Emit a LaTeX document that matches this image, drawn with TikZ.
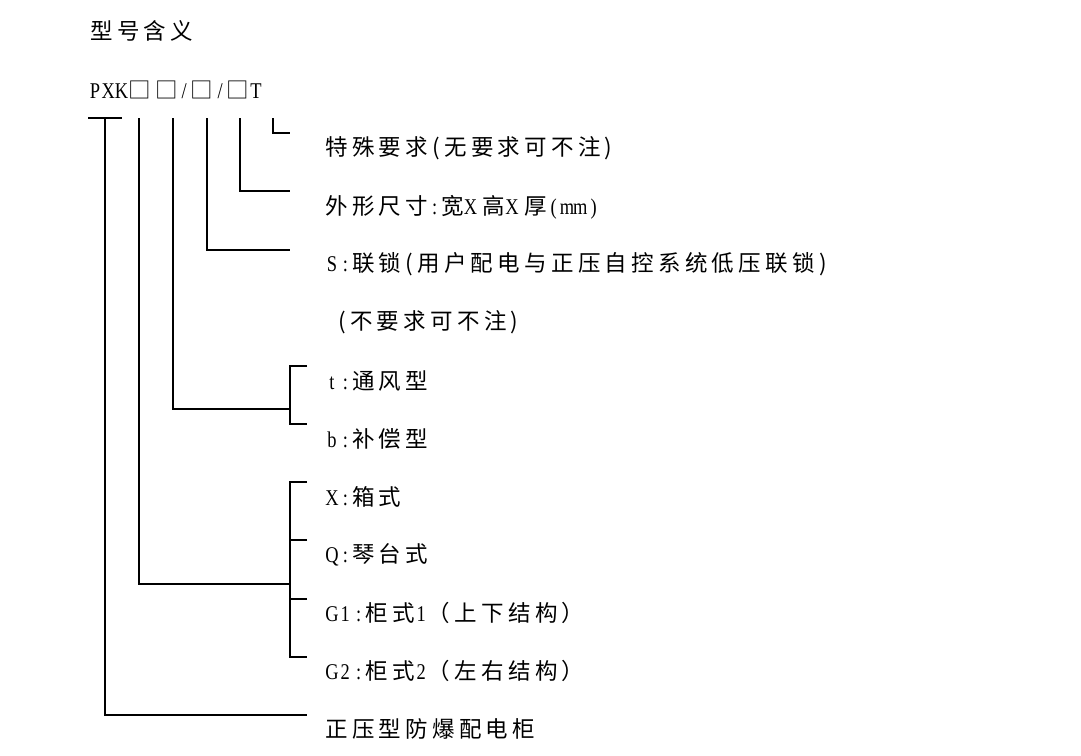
\documentclass[tikz,border=0pt]{standalone}
\usepackage{fontspec}
\setmainfont[Scale=1.0,FakeStretch=0.82]{Liberation Serif}
\newfontfamily\cjk[LetterSpace=19]{Noto Sans CJK SC}
\usetikzlibrary{calc}
% half-width cells for the latin letters
\makeatletter
\newcommand\hw[1]{\@tfor\hw@c:=#1\do{\makebox[9.5pt]{\hw@c}}}
\makeatother
\tikzset{
  lbl/.style={anchor=west, inner sep=0pt, font=\fontsize{16}{18}\selectfont},
  lead/.style={line width=0.75pt, black},
}

\begin{document}
\begin{tikzpicture}[x=0.025cm, y=-0.025cm]
    \useasboundingbox (0,0) rectangle (1081,756);
    % heading and model code
    \node[lbl] (lbltitle) at (90,31) {\cjk 型号含义};
    \node[lbl] (lblcode) at (88,90) {\hw{PXK}{\cjk □□}\hw{/}{\cjk □}\hw{/}{\cjk □}\hw{T}};
    % meaning of each field
    \node[lbl] (lblspec) at (325,148) {\cjk 特殊要求(无要求可不注)};
    \node[lbl] (lbldim) at (325,207) {{\cjk 外形尺寸}\hw{:}{\cjk 宽}\hw{X}\hspace{4pt}{\cjk 高}\hw{X}\hspace{4pt}{\cjk 厚}\hw{(mm)}};
    \node[lbl] (lbllock) at (325,264) {\hw{S:}{\cjk 联锁(用户配电与正压自控系统低压联锁)}};
    \node[lbl] (lbllockb) at (338,322) {\cjk (不要求可不注)};
    \node[lbl] (lblt) at (325,381) {\hw{t:}{\cjk 通风型}};
    \node[lbl] (lblb) at (325,439) {\hw{b:}{\cjk 补偿型}};
    \node[lbl] (lblX) at (325,497) {\hw{X:}{\cjk 箱式}};
    \node[lbl] (lblQ) at (325,555) {\hw{Q:}{\cjk 琴台式}};
    \node[lbl] (lblGa) at (325,613) {\hw{G1:}{\cjk 柜式}\hw{1}{\cjk （上下结构）}};
    \node[lbl] (lblGb) at (325,671) {\hw{G2:}{\cjk 柜式}\hw{2}{\cjk （左右结构）}};
    \node[lbl] (lblmain) at (325,729) {\cjk 正压型防爆配电柜};
    % feet of the leaders, under the code
    \coordinate (fmain) at (105,118);
    \coordinate (ftype) at (139,118);
    \coordinate (fvent) at (173,118);
    \coordinate (flock) at (207,118);
    \coordinate (fdim) at (240,118);
    \coordinate (fspec) at (273,118);
    \draw[lead] (88,118) -- (122,118);
    % single leaders
    \draw[lead] (fspec) |- ($(lblspec.west)+(-35,-15)$);
    \draw[lead] (fdim) |- ($(lbldim.west)+(-35,-16)$);
    \draw[lead] (flock) |- ($(lbllock.west)+(-35,-14)$);
    \draw[lead] (fmain) |- ($(lblmain.west)+(-18,-14)$);
    % vent type bracket
    \draw[lead] (fvent) |- (290,409);
    \draw[lead] ($(lblt.west)+(-18,-15)$) -| (290,424) -- ($(lblb.west)+(-18,-15)$);
    % cabinet type bracket
    \draw[lead] (ftype) |- (290,584);
    \draw[lead] ($(lblX.west)+(-18,-15)$) -| (290,657) -- ($(lblGb.west)+(-18,-14)$);
    \draw[lead] ($(lblQ.west)+(-18,-15)$) -- (290,540);
    \draw[lead] ($(lblGa.west)+(-18,-14)$) -- (290,599);
\end{tikzpicture}
\end{document}
